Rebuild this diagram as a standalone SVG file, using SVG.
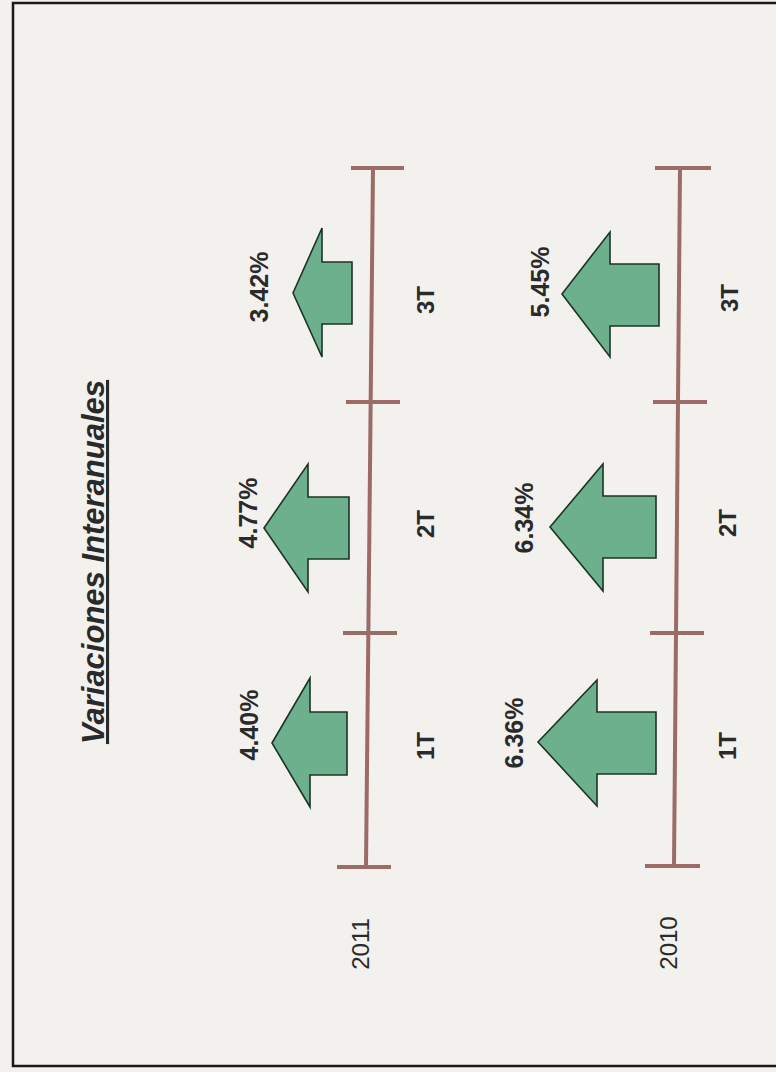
<svg xmlns="http://www.w3.org/2000/svg" width="776" height="1072" viewBox="0 0 776 1072">
<style>
.bg{fill:#f2f1ee}
.frame{fill:none;stroke:#1a1a1a;stroke-width:2.5}
.axis{stroke:#9b6b68;stroke-width:4;fill:none;stroke-linecap:butt}
.arrow{fill:#6cb08d;stroke:#1d3326;stroke-width:1.6;stroke-linejoin:miter}
.pct{font-family:"Liberation Sans",Arial,sans-serif;font-size:25px;font-weight:bold;fill:#2a2a2a;text-anchor:middle}
.q{font-family:"Liberation Sans",Arial,sans-serif;font-size:24px;font-weight:bold;fill:#2a2a2a;text-anchor:middle}
.yr{font-family:"Liberation Sans",Arial,sans-serif;font-size:24px;fill:#2a2a2a;text-anchor:middle}
.title{font-family:"Liberation Sans",Arial,sans-serif;font-size:31px;font-weight:bold;font-style:italic;fill:#2a2a2a;text-anchor:middle;text-decoration:underline}
</style>
<rect class="bg" x="0" y="0" width="776" height="1072"/>
<rect class="frame" x="13" y="3" width="775" height="1063"/>

<g id="title">
<text class="title" transform="translate(104,562) rotate(-90)" x="0" y="0">Variaciones Interanuales</text>
</g>

<g id="connectors">
<line class="axis" x1="373" y1="168" x2="366" y2="867"/>
<line class="axis" x1="351" y1="168" x2="404" y2="168"/>
<line class="axis" x1="346" y1="402" x2="400" y2="402"/>
<line class="axis" x1="343" y1="633" x2="397" y2="633"/>
<line class="axis" x1="337" y1="867" x2="391" y2="867"/>
<line class="axis" x1="680" y1="168" x2="674" y2="866"/>
<line class="axis" x1="655" y1="168" x2="711" y2="168"/>
<line class="axis" x1="653" y1="402" x2="707" y2="402"/>
<line class="axis" x1="650" y1="633" x2="704" y2="633"/>
<line class="axis" x1="645" y1="866" x2="700" y2="866"/>
</g>

<g id="y2011">
<text class="yr" transform="translate(369,944) rotate(-90)" x="0" y="0">2011</text>
</g>
<g id="y2010">
<text class="yr" transform="translate(677,943) rotate(-90)" x="0" y="0">2010</text>
</g>

<g id="a2011-3T">
<polygon class="arrow" points="293,293 322,228 322,262 352,262 352,324 322,324 322,357"/>
<text class="pct" transform="translate(268,287) rotate(-90)">3.42%</text>
<text class="q" transform="translate(434,300) rotate(-90)">3T</text>
</g>
<g id="a2011-2T">
<polygon class="arrow" points="264,528 308,464 308,497 349,497 349,559 308,559 308,592"/>
<text class="pct" transform="translate(257,513) rotate(-90)">4.77%</text>
<text class="q" transform="translate(434,524) rotate(-90)">2T</text>
</g>
<g id="a2011-1T">
<polygon class="arrow" points="272,743 310,678 310,712 347,712 347,775 310,775 310,807"/>
<text class="pct" transform="translate(258,725) rotate(-90)">4.40%</text>
<text class="q" transform="translate(434,746) rotate(-90)">1T</text>
</g>

<g id="a2010-3T">
<polygon class="arrow" points="562,294 610,232 610,264 659,264 659,326 610,326 610,357"/>
<text class="pct" transform="translate(549,282) rotate(-90)">5.45%</text>
<text class="q" transform="translate(738,298) rotate(-90)">3T</text>
</g>
<g id="a2010-2T">
<polygon class="arrow" points="550,527 603,464 603,496 656,496 656,558 603,558 603,591"/>
<text class="pct" transform="translate(533,518) rotate(-90)">6.34%</text>
<text class="q" transform="translate(736,523) rotate(-90)">2T</text>
</g>
<g id="a2010-1T">
<polygon class="arrow" points="538,742 597,680 597,712 656,712 656,774 597,774 597,806"/>
<text class="pct" transform="translate(523,733) rotate(-90)">6.36%</text>
<text class="q" transform="translate(736,746) rotate(-90)">1T</text>
</g>
</svg>
